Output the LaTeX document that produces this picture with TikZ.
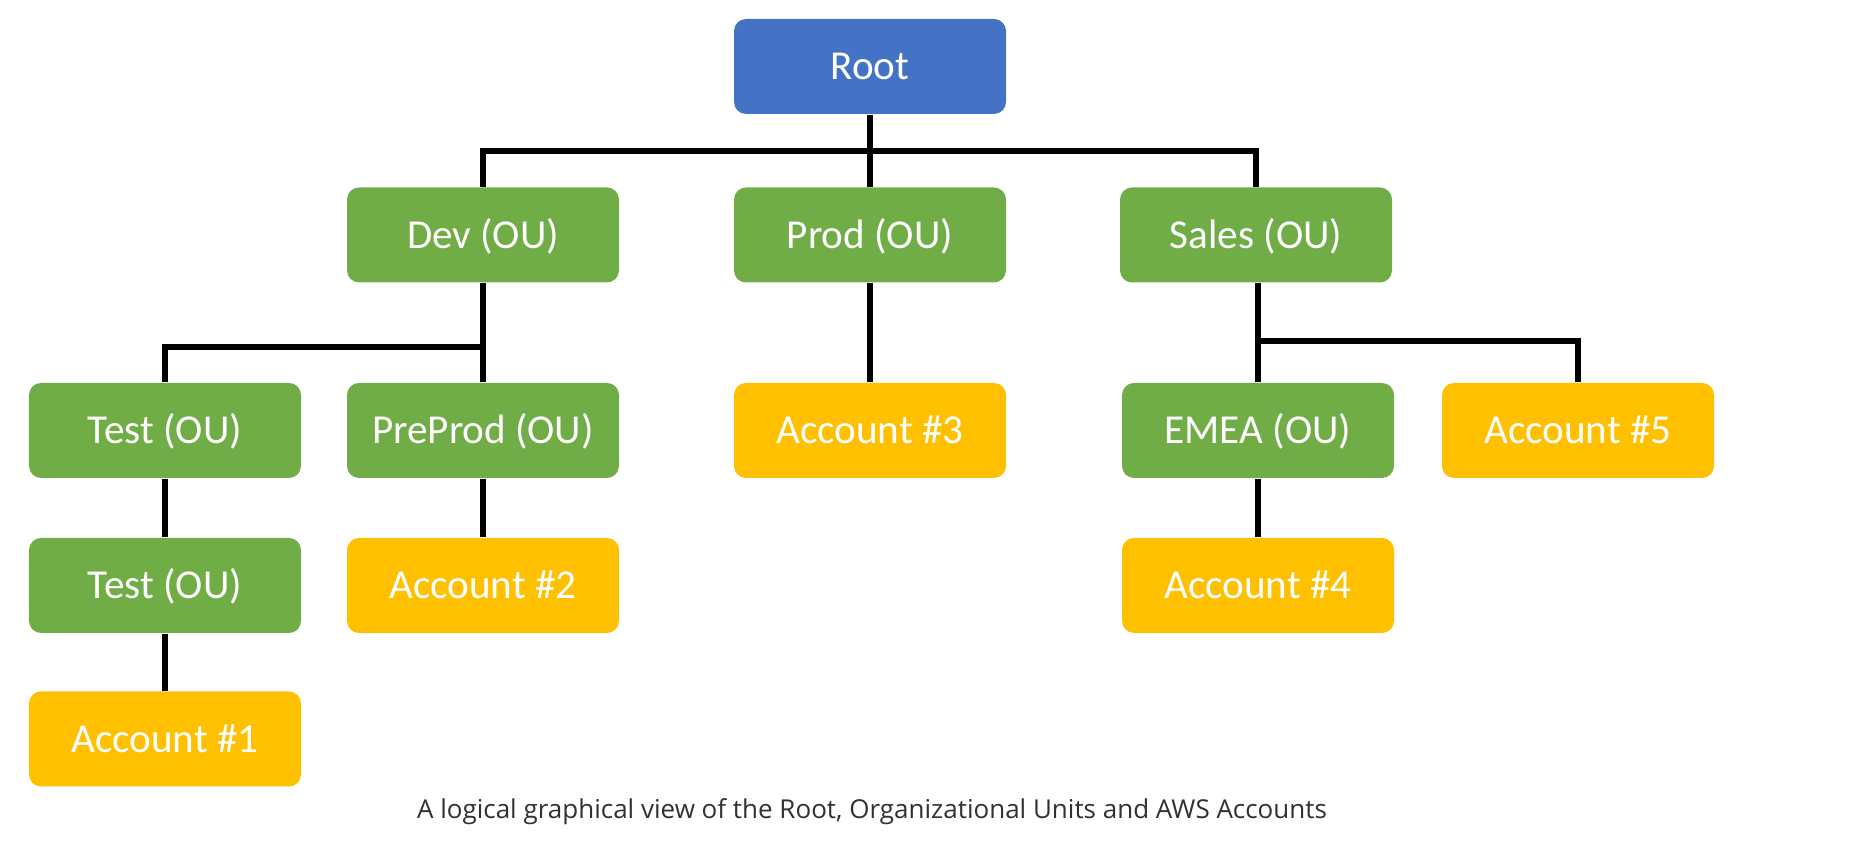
\documentclass[tikz,border=0pt]{standalone}
\usepackage{fontspec}
\setmainfont{Carlito}
\newfontfamily\captionfont{Open Sans}
\usetikzlibrary{positioning}
\definecolor{root-blue}{HTML}{4472C4}
\definecolor{ou-green}{HTML}{70AD47}
\definecolor{acct-gold}{HTML}{FFC000}
\definecolor{caption-gray}{HTML}{323130}
\newdimen\orgboxwidth
\setlength{\orgboxwidth}{2.72cm}
\newdimen\orgboxheight
\setlength{\orgboxheight}{0.95cm}
\tikzstyle{orgbasestyle}=[shape=rectangle,rounded corners=0.12cm,minimum width=\orgboxwidth,minimum height=\orgboxheight,inner sep=0pt,text height=0.265cm,text depth=0pt,text=white,font=\fontsize{11.7}{14}\selectfont]
\tikzstyle{rootstyle}=[orgbasestyle,fill=root-blue]
\tikzstyle{oustyle}=[orgbasestyle,fill=ou-green]
\tikzstyle{accountstyle}=[orgbasestyle,fill=acct-gold]
\tikzstyle{linkstyle}=[draw=black,line width=0.06cm]
\newcommand{\orgnode}[5]{ \draw (#3,#4) node [style=#5] (#1) {#2}; }
\newcommand{\orglink}[2]{ \draw [style=linkstyle] (#1.south) -- (#2.north); }
\newcommand{\orgbus}[3]{ \draw [style=linkstyle] (#1.north) -- ++(0,#3) -| (#2.north); }

\begin{document}
\begin{tikzpicture}
\useasboundingbox (0,0) rectangle (18.49,-8.58); %
\orgnode{root}{Root}{8.70}{-0.665}{rootstyle} %
\orgnode{dev}{Dev (OU)}{4.83}{-2.35}{oustyle} %
\orgnode{prod}{Prod (OU)}{8.70}{-2.35}{oustyle} %
\orgnode{sales}{Sales (OU)}{12.56}{-2.35}{oustyle} %
\orgnode{test}{Test (OU)}{1.65}{-4.305}{oustyle} %
\orgnode{preprod}{PreProd (OU)}{4.83}{-4.305}{oustyle} %
\orgnode{acctthree}{Account \#3}{8.70}{-4.305}{accountstyle} %
\orgnode{emea}{EMEA (OU)}{12.58}{-4.305}{oustyle} %
\orgnode{acctfive}{Account \#5}{15.78}{-4.305}{accountstyle} %
\orgnode{testsub}{Test (OU)}{1.65}{-5.855}{oustyle} %
\orgnode{accttwo}{Account \#2}{4.83}{-5.855}{accountstyle} %
\orgnode{acctfour}{Account \#4}{12.58}{-5.855}{accountstyle} %
\orgnode{acctone}{Account \#1}{1.65}{-7.39}{accountstyle} %
\orglink{root}{prod} %
\orgbus{dev}{sales}{0.36} %
\orglink{dev}{preprod} %
\orgbus{test}{preprod}{0.35} %
\orglink{test}{testsub} %
\orglink{testsub}{acctone} %
\orglink{preprod}{accttwo} %
\orglink{prod}{acctthree} %
\draw [style=linkstyle] (sales.south -| emea.north) -- (emea.north); %
\orgbus{emea}{acctfive}{0.41} %
\orglink{emea}{acctfour} %
\draw (8.72,-8.12) node [text=caption-gray,font=\captionfont\fontsize{7.4}{9}\selectfont] (caption) {A logical graphical view of the Root, Organizational Units and AWS Accounts}; %
\end{tikzpicture}
\end{document}
